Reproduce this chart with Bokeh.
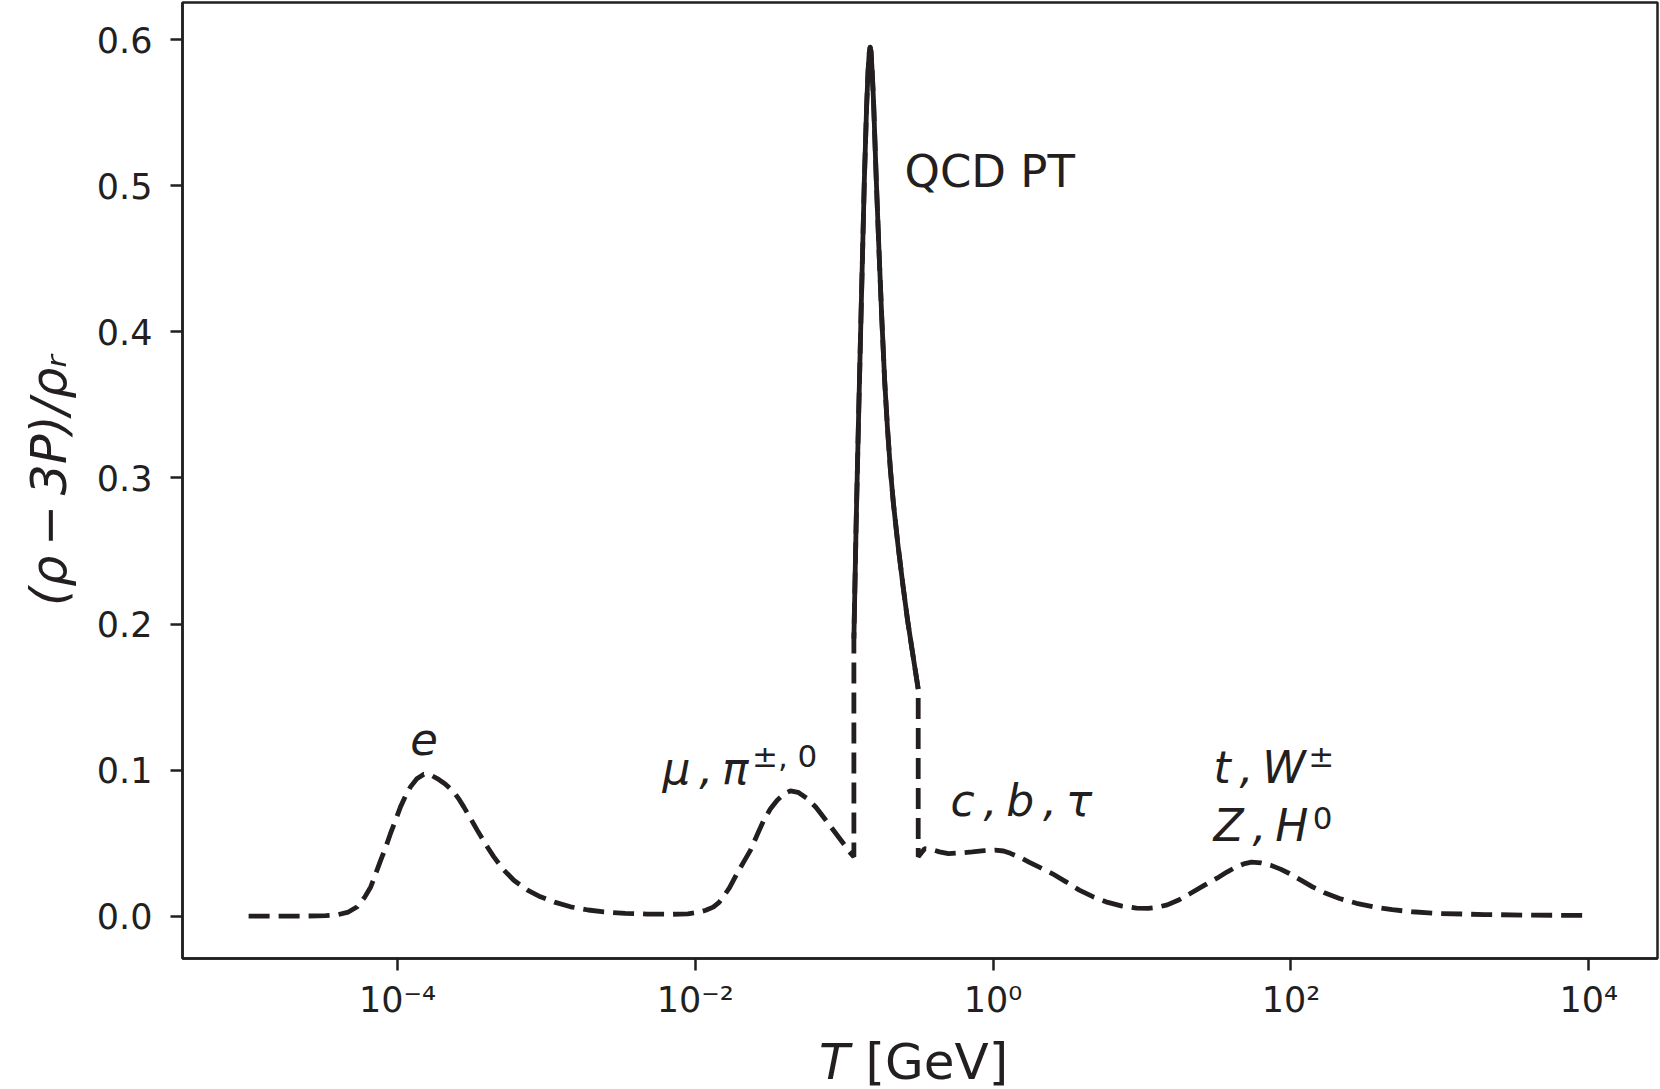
from bokeh.plotting import figure
from bokeh.models import Label, Range1d, FixedTicker, Div
from bokeh.layouts import column
from bokeh.embed import file_html
from bokeh.resources import INLINE

INK = "#231f20"
FONT = "DejaVu Sans"

# ---- data: log10(T/GeV) and (rho-3P)/rho_r ----
logT_low = [-5.00, -4.80, -4.60, -4.48, -4.40, -4.33, -4.27, -4.22, -4.18, -4.15,
            -4.114, -4.08, -4.047, -4.01, -3.98, -3.945, -3.913, -3.87, -3.823, -3.78,
            -3.733, -3.68, -3.622, -3.59, -3.555, -3.51, -3.465, -3.41, -3.353, -3.29,
            -3.219, -3.13, -3.04, -2.94, -2.838, -2.72, -2.614, -2.47, -2.323, -2.15,
            -2.05, -1.98, -1.93, -1.88, -1.84, -1.81, -1.77, -1.72, -1.67, -1.629,
            -1.585, -1.54, -1.495, -1.45, -1.40, -1.361, -1.31, -1.25, -1.19, -1.137,
            -1.09, -1.047, -1.00, -0.969, -0.935]
ratio_low = [0.0000, 0.0000, 0.0001, 0.0004, 0.0010, 0.0028, 0.0064, 0.0130, 0.0200, 0.0280,
             0.0380, 0.0470, 0.0566, 0.0665, 0.0748, 0.0825, 0.0885, 0.0940, 0.0972, 0.0968,
             0.0942, 0.0905, 0.0850, 0.0805, 0.0748, 0.0670, 0.0589, 0.0495, 0.0406, 0.0320,
             0.0246, 0.0180, 0.0132, 0.0094, 0.0064, 0.0042, 0.0029, 0.0019, 0.0014, 0.0013,
             0.0016, 0.0026, 0.0040, 0.0062, 0.0095, 0.0135, 0.0195, 0.0292, 0.0380, 0.0452,
             0.0555, 0.0657, 0.0735, 0.0794, 0.0840, 0.0858, 0.0848, 0.0806, 0.0745, 0.0675,
             0.0612, 0.0554, 0.0490, 0.0445, 0.0406]

logT_qcd = [-0.935, -0.920, -0.905, -0.885, -0.865, -0.850, -0.840, -0.832, -0.826, -0.820,
            -0.812, -0.803, -0.785, -0.765, -0.748, -0.728, -0.710, -0.690, -0.670, -0.640,
            -0.605, -0.575, -0.545, -0.503]
ratio_qcd = [0.190, 0.268, 0.335, 0.420, 0.503, 0.553, 0.578, 0.591, 0.595, 0.592,
             0.578, 0.558, 0.505, 0.452, 0.410, 0.366, 0.335, 0.306, 0.283, 0.255,
             0.226, 0.203, 0.183, 0.1555]

logT_high = [-0.503, -0.46, -0.42, -0.36, -0.30, -0.22, -0.14, -0.06, 0.013, 0.07,
             0.116, 0.18, 0.244, 0.32, 0.399, 0.49, 0.579, 0.67, 0.758, 0.86,
             0.963, 1.041, 1.10, 1.17, 1.25, 1.324, 1.42, 1.504, 1.57, 1.633,
             1.69, 1.736, 1.80, 1.863, 1.93, 1.99, 2.07, 2.145, 2.23, 2.326,
             2.44, 2.557, 2.68, 2.815, 3.00, 3.30, 3.60, 4.00]
ratio_high = [0.0406, 0.0462, 0.0458, 0.0440, 0.0428, 0.0433, 0.0440, 0.0448, 0.0452, 0.0446,
              0.0430, 0.0402, 0.0368, 0.0330, 0.0290, 0.0235, 0.0178, 0.0133, 0.0098, 0.0070,
              0.0055, 0.0053, 0.0060, 0.0077, 0.0112, 0.0155, 0.0212, 0.0260, 0.0302, 0.0337,
              0.0360, 0.0370, 0.0364, 0.0349, 0.0322, 0.0292, 0.0245, 0.0200, 0.0158, 0.0121,
              0.0088, 0.0064, 0.0044, 0.0030, 0.0018, 0.0011, 0.0007, 0.0005]

x_ticks = [1e-4, 1e-2, 1e0, 1e2, 1e4]
x_tick_labels = ["10\u207b\u2074", "10\u207b\u00b2", "10\u2070", "10\u00b2", "10\u2074"]
y_ticks = [0.0, 0.1, 0.2, 0.3, 0.4, 0.5, 0.6]
y_tick_labels = ["0.0", "0.1", "0.2", "0.3", "0.4", "0.5", "0.6"]

T_dashed = [10 ** v for v in logT_low + logT_qcd + logT_high]
r_dashed = ratio_low + ratio_qcd + ratio_high
T_qcd = [10 ** v for v in logT_qcd]

p = figure(width=1660, height=1037, x_axis_type="log",
           x_range=Range1d(10 ** -5.444, 10 ** 4.462),
           y_range=Range1d(-0.0290, 0.6255),
           output_backend="svg", toolbar_location=None,
           min_border_left=182, min_border_right=3,
           min_border_top=2, min_border_bottom=79)
p.background_fill_color = "white"
p.border_fill_color = "white"
p.grid.visible = False
p.outline_line_color = INK
p.outline_line_width = 2.5

p.line(T_dashed, r_dashed, line_color=INK, line_width=4.8, line_dash="21 9")
p.line(T_qcd, ratio_qcd, line_color=INK, line_width=4.8, line_join="round")

for ax in (p.xaxis[0], p.yaxis[0]):
    ax.axis_line_color = INK
    ax.axis_line_width = 2.5
    ax.major_tick_line_color = INK
    ax.major_tick_line_width = 2.5
    ax.major_tick_out = 12
    ax.major_tick_in = 0
    ax.minor_tick_line_color = None
    ax.major_label_text_font = FONT
    ax.major_label_text_font_size = "35px"
    ax.major_label_text_color = INK

p.xaxis.ticker = FixedTicker(ticks=x_ticks, minor_ticks=[])
p.xaxis.major_label_overrides = dict(zip(x_ticks, x_tick_labels))
p.xaxis.major_label_standoff = 9
p.yaxis.ticker = FixedTicker(ticks=y_ticks, minor_ticks=[])
p.yaxis.major_label_overrides = dict(zip(y_ticks, y_tick_labels))
p.yaxis.major_label_standoff = 18

TH = "\u2009"
p.yaxis.axis_label = "(\u03c1" + TH + "\u2212" + TH + "3P)/\u03c1\u1d63"
p.yaxis.axis_label_text_font = FONT
p.yaxis.axis_label_text_font_size = "49px"
p.yaxis.axis_label_text_font_style = "italic"
p.yaxis.axis_label_text_color = INK
p.yaxis.axis_label_standoff = 16


def add_text(T, y, text, size, style="normal", align="left"):
    p.add_layout(Label(x=T, y=y, text=text, text_font=FONT, text_font_size=size,
                       text_font_style=style, text_color=INK, text_align=align,
                       text_baseline="middle"))


add_text(1.51e-4, 0.1219, "e", "45px", "italic", "center")
add_text(6.02e-3, 0.1010, "\u03bc" + TH + "," + TH + "\u03c0", "44px", "italic")
add_text(0.0240, 0.1098, "\u00b1, 0", "31px")
add_text(0.2541, 0.5095, "QCD PT", "45px")
add_text(0.5176, 0.0793, "c" + TH + "," + TH + "b" + TH + "," + TH + "\u03c4", "44px", "italic")
add_text(30.22, 0.1021, "t" + TH + "," + TH + "W", "44px", "italic")
add_text(131.0, 0.1093, "\u00b1", "31px")
add_text(30.22, 0.0622, "Z" + TH + "," + TH + "H", "44px", "italic")
add_text(140.0, 0.0672, "0", "31px")

# x-axis title: italic T, upright [GeV]
xlabel = Div(text="<i>T</i> [GeV]", width=1660, height=52,
             styles={"font-family": FONT, "font-size": "50px", "color": INK,
                     "line-height": "50px", "text-indent": "819px",
                     "white-space": "nowrap", "margin": "0", "padding": "0"})

layout = column(p, xlabel, spacing=0)
open("out.html", "w").write(file_html(layout, INLINE))
